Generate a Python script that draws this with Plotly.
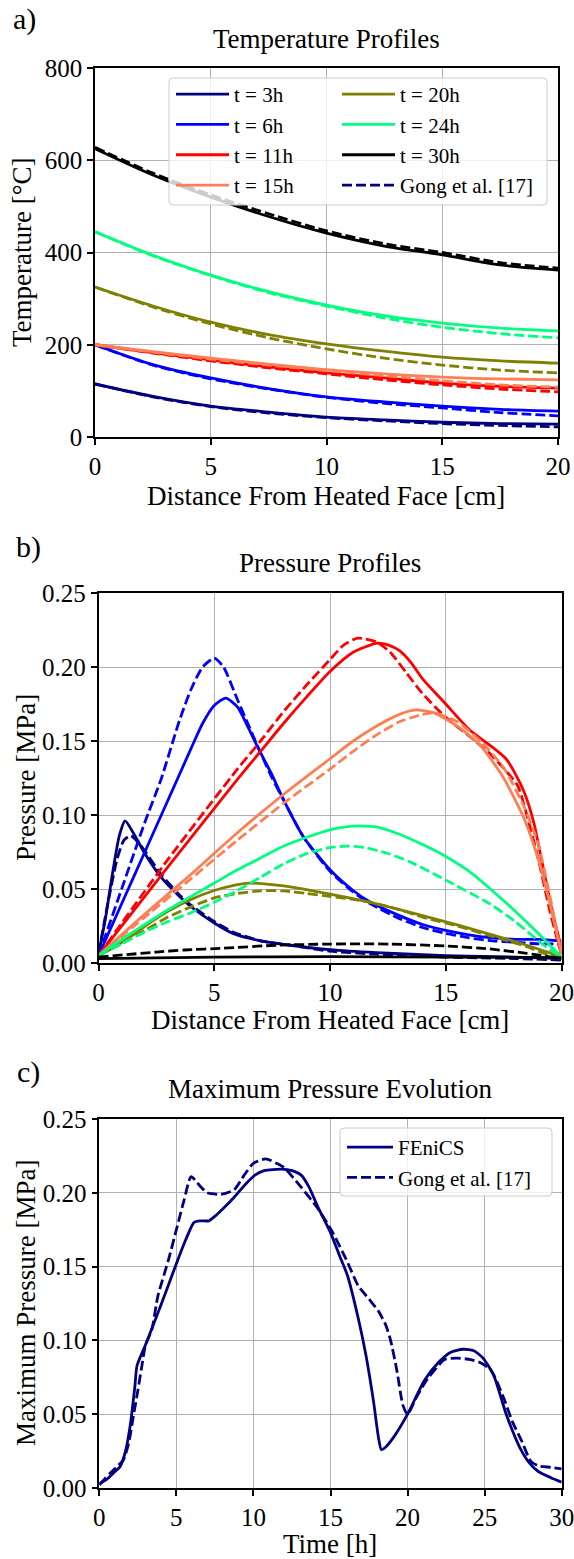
import plotly.graph_objects as go

W, H = 574, 1559

# ---------------- a) temperature profiles ----------------
x_temp = [0, 2.5, 5, 7.5, 10, 12.5, 15, 17.5, 20]
T_3h = [115, 88, 67, 54, 43, 37, 32, 29, 28]
T_3h_gong = [115, 87, 66, 52, 42, 35, 29, 25, 22]
T_6h = [200, 157, 128, 105, 87, 76, 67, 60, 56]
T_6h_gong = [200, 156, 126, 104, 86, 73, 63, 53, 46]
T_11h = [200, 183, 167, 152, 139, 128, 117, 110, 106]
T_11h_gong = [200, 182, 165, 150, 137, 124, 113, 104, 98]
T_15h = [200, 185, 171, 158, 146, 137, 130, 126, 124]
T_15h_gong = [200, 184, 169, 156, 144, 133, 122, 113, 108]
T_20h = [325, 284, 249, 222, 202, 186, 173, 165, 160]
T_20h_gong = [325, 282, 245, 215, 191, 171, 156, 145, 139]
T_24h = [445, 394, 351, 315, 286, 263, 247, 236, 230]
T_24h_gong = [445, 393, 350, 313, 284, 258, 238, 224, 215]
T_30h = [625, 568, 520, 478, 442, 414, 395, 373, 362]
T_30h_gong = [628, 572, 525, 484, 447, 419, 400, 378, 366]

# ---------------- b) pressure profiles ----------------
P_3h_x = [0, 0.3, 0.6, 0.9, 1.15, 1.5, 2.0, 2.7, 3.5, 4.0, 5.0, 5.8, 7.0, 8.3, 10, 12, 15, 18, 20]
P_3h = [0.006, 0.03, 0.06, 0.086, 0.096, 0.088, 0.074, 0.058, 0.045, 0.038, 0.027, 0.020, 0.015, 0.012, 0.009, 0.007, 0.005, 0.004, 0.003]
P_3h_gong_x = [0, 0.4, 0.8, 1.1, 1.4, 1.8, 2.7, 3.5, 4.0, 5.0, 5.8, 7.0, 8.3, 10, 12, 15, 18, 20]
P_3h_gong = [0.006, 0.04, 0.07, 0.083, 0.086, 0.080, 0.060, 0.046, 0.039, 0.028, 0.021, 0.015, 0.012, 0.008, 0.006, 0.004, 0.003, 0.002]

P_6h_x = [0, 1, 2, 3, 3.4, 4, 4.5, 5, 5.5, 6, 6.5, 6.87, 7.5, 8, 8.86, 10, 11, 11.75, 13, 14, 15, 16, 17, 18, 19, 20]
P_6h = [0.005, 0.04, 0.075, 0.11, 0.124, 0.145, 0.162, 0.174, 0.179, 0.173, 0.158, 0.146, 0.127, 0.110, 0.085, 0.063, 0.049, 0.041, 0.032, 0.026, 0.022, 0.019, 0.017, 0.016, 0.016, 0.015]
P_6h_gong_x = [0, 1, 2, 2.7, 3.5, 4, 4.5, 5, 5.4, 6, 6.5, 7, 7.5, 8, 8.86, 10, 11, 11.75, 13, 14, 15, 16, 17, 18, 19, 20]
P_6h_gong = [0.005, 0.05, 0.095, 0.124, 0.164, 0.185, 0.200, 0.206, 0.200, 0.178, 0.160, 0.142, 0.125, 0.110, 0.085, 0.062, 0.048, 0.040, 0.030, 0.024, 0.020, 0.017, 0.015, 0.014, 0.013, 0.013]

P_11h_x = [0, 3, 6, 7, 8, 9, 10, 11, 12, 12.5, 13, 13.5, 14, 15, 16, 17, 17.6, 18, 18.4, 18.8, 19.2, 19.6, 20]
P_11h = [0.005, 0.065, 0.124, 0.143, 0.162, 0.18, 0.197, 0.21, 0.216, 0.215, 0.211, 0.203, 0.192, 0.175, 0.158, 0.146, 0.138, 0.128, 0.115, 0.095, 0.065, 0.035, 0.01]
P_11h_gong_x = [0, 3, 6, 7, 8, 9, 10, 10.6, 11.2, 12, 12.6, 13.3, 14, 15, 16.2, 17, 18.1, 18.5, 19, 19.5, 20]
P_11h_gong = [0.005, 0.07, 0.131, 0.15, 0.17, 0.188, 0.205, 0.215, 0.2195, 0.217, 0.21, 0.196, 0.182, 0.166, 0.151, 0.14, 0.12, 0.1, 0.07, 0.035, 0.005]

P_15h_x = [0, 2, 4, 6, 8, 10, 11, 12, 13, 13.7, 14.5, 15.5, 16.5, 17.5, 18.4, 19, 19.5, 20]
P_15h = [0.005, 0.033, 0.06, 0.088, 0.114, 0.138, 0.15, 0.16, 0.168, 0.171, 0.169, 0.16, 0.147, 0.125, 0.097, 0.07, 0.04, 0.006]
P_15h_gong_x = [0, 2, 4, 6, 8, 10, 11, 12, 13, 14, 14.5, 15.5, 16.5, 17.5, 18.4, 19, 19.5, 20]
P_15h_gong = [0.005, 0.031, 0.057, 0.083, 0.108, 0.131, 0.143, 0.154, 0.163, 0.168, 0.169, 0.163, 0.15, 0.132, 0.105, 0.08, 0.045, 0.006]

P_20h_x = [0, 0.7, 1.4, 2.2, 3, 4, 5, 6, 6.5, 7.5, 8.5, 9.5, 10.5, 11.75, 13, 14, 15.5, 17, 18.5, 19.5, 20]
P_20h = [0.005, 0.011, 0.018, 0.027, 0.035, 0.043, 0.049, 0.053, 0.054, 0.053, 0.051, 0.048, 0.045, 0.041, 0.036, 0.032, 0.0257, 0.019, 0.012, 0.0068, 0.004]
P_20h_gong_x = [0, 1, 2, 3, 4, 5, 6, 7, 8, 9, 10, 11, 11.75, 13, 14, 15.5, 17, 18.5, 19.5, 20]
P_20h_gong = [0.005, 0.013, 0.022, 0.031, 0.038, 0.044, 0.047, 0.0488, 0.0487, 0.047, 0.045, 0.043, 0.041, 0.036, 0.031, 0.025, 0.018, 0.011, 0.005, 0.003]

P_24h_x = [0, 1, 2, 3, 4, 5, 6, 7, 8, 9, 10, 11, 12, 13, 14, 15, 16, 17, 18, 19, 20]
P_24h = [0.005, 0.016, 0.026, 0.036, 0.045, 0.054, 0.063, 0.071, 0.079, 0.085, 0.09, 0.0925, 0.092, 0.087, 0.08, 0.072, 0.062, 0.049, 0.035, 0.02, 0.004]
P_24h_gong_x = [0, 1, 2, 3, 4, 5, 6, 7, 8, 9, 10, 10.75, 11.5, 12.5, 13.5, 15, 16.9, 18, 19, 19.5, 20]
P_24h_gong = [0.005, 0.013, 0.021, 0.028, 0.034, 0.041, 0.049, 0.058, 0.067, 0.074, 0.078, 0.079, 0.078, 0.074, 0.068, 0.056, 0.04, 0.028, 0.015, 0.009, 0.004]

P_30h_x = [0, 5, 10, 15, 20]
P_30h = [0.003, 0.004, 0.0043, 0.004, 0.0036]
P_30h_gong_x = [0, 2.5, 3.7, 5.4, 7.7, 10, 12.6, 15, 16.9, 18.5, 20]
P_30h_gong = [0.004, 0.0074, 0.0088, 0.010, 0.012, 0.0128, 0.0128, 0.0115, 0.0095, 0.0065, 0.003]

# ---------------- c) maximum pressure evolution ----------------
t_fenics = [0, 0.5, 1, 1.34, 1.7, 2.0, 2.3, 2.45, 3, 4, 5, 5.6, 6.15, 6.6, 7.1, 7.6, 8.2, 8.75, 9.5, 10.1,
            10.7, 11.8, 12.5, 13.1, 13.6, 14.2, 15.0, 15.6, 16.1, 16.8, 17.3, 17.8, 18.1, 18.3, 18.6, 19.2,
            20, 21.1, 22, 22.8, 23.6, 24.3, 24.9, 25.6, 26.4, 27.3, 27.9, 28.5, 29.3, 30]
pmax_fenics = [0.003, 0.006, 0.011, 0.0143, 0.025, 0.042, 0.068, 0.083, 0.097, 0.124, 0.152, 0.168, 0.18, 0.181,
               0.181, 0.185, 0.191, 0.197, 0.206, 0.212, 0.215, 0.216, 0.215, 0.212, 0.204, 0.19, 0.173, 0.157,
               0.144, 0.115, 0.09, 0.058, 0.035, 0.026, 0.028, 0.036, 0.05, 0.073, 0.085, 0.092, 0.094, 0.093,
               0.088, 0.076, 0.05, 0.027, 0.017, 0.011, 0.007, 0.004]
t_gong = [0, 0.7, 1.2, 1.56, 1.9, 2.2, 2.5, 2.75, 3.0, 3.4, 3.8, 4.5, 5.0, 5.5, 5.96, 6.5, 7.0, 7.9, 8.75, 9.4,
          10.0, 10.8, 11.5, 12.0, 13.0, 14.2, 15.2, 16.1, 16.8, 17.5, 18.1, 18.6, 18.9, 19.3, 19.7, 20.0, 20.6,
          21.3, 22.4, 23.2, 24.1, 24.7, 25.4, 26.2, 26.8, 27.4, 28.0, 28.5, 29.3, 30]
pmax_gong = [0.002, 0.01, 0.015, 0.019, 0.03, 0.048, 0.066, 0.082, 0.097, 0.107, 0.13, 0.155, 0.175, 0.195, 0.211,
             0.205, 0.2, 0.199, 0.202, 0.212, 0.22, 0.223, 0.22, 0.217, 0.205, 0.189, 0.172, 0.153, 0.137, 0.128,
             0.12, 0.11, 0.1, 0.08, 0.056, 0.05, 0.062, 0.074, 0.087, 0.088, 0.087, 0.085, 0.08, 0.062, 0.045,
             0.032, 0.018, 0.015, 0.014, 0.013]

labels = ["t = 3h", "t = 6h", "t = 11h", "t = 15h", "t = 20h", "t = 24h", "t = 30h"]
colors = ["#000080", "#0000ff", "#ff0000", "#ff7f55", "#808000", "#00ff7f", "#000000"]

FONT = "'Liberation Serif', 'Times New Roman', 'DejaVu Serif', serif"
LW = 2.8
DASH = "10px,4px"


def px_x(p):
    return p / W


def px_y(p):
    return 1 - p / H


fig = go.Figure()

temp_solid = [T_3h, T_6h, T_11h, T_15h, T_20h, T_24h, T_30h]
temp_gong = [T_3h_gong, T_6h_gong, T_11h_gong, T_15h_gong, T_20h_gong, T_24h_gong, T_30h_gong]
for i in range(7):
    fig.add_trace(go.Scatter(x=x_temp, y=temp_solid[i], mode="lines", name=labels[i],
                             line=dict(color=colors[i], width=LW, shape="spline", smoothing=0.8),
                             legend="legend" if i < 4 else "legend2", legendrank=i,
                             xaxis="x", yaxis="y"))
    fig.add_trace(go.Scatter(x=x_temp, y=temp_gong[i], mode="lines", name="Gong et al. [17]",
                             line=dict(color=colors[i], width=LW, dash=DASH, shape="spline", smoothing=0.8),
                             showlegend=(i == 0), legend="legend2", legendrank=10,
                             xaxis="x", yaxis="y"))

pres_solid = [(P_3h_x, P_3h), (P_6h_x, P_6h), (P_11h_x, P_11h), (P_15h_x, P_15h),
              (P_20h_x, P_20h), (P_24h_x, P_24h), (P_30h_x, P_30h)]
pres_gong = [(P_3h_gong_x, P_3h_gong), (P_6h_gong_x, P_6h_gong), (P_11h_gong_x, P_11h_gong),
             (P_15h_gong_x, P_15h_gong), (P_20h_gong_x, P_20h_gong), (P_24h_gong_x, P_24h_gong),
             (P_30h_gong_x, P_30h_gong)]
for i in range(7):
    fig.add_trace(go.Scatter(x=pres_solid[i][0], y=pres_solid[i][1], mode="lines", showlegend=False,
                             line=dict(color=colors[i], width=LW, shape="spline", smoothing=0.6),
                             xaxis="x2", yaxis="y2"))
    fig.add_trace(go.Scatter(x=pres_gong[i][0], y=pres_gong[i][1], mode="lines", showlegend=False,
                             line=dict(color=colors[i], width=LW, dash=DASH, shape="spline", smoothing=0.6),
                             xaxis="x2", yaxis="y2"))

fig.add_trace(go.Scatter(x=t_fenics, y=pmax_fenics, mode="lines", name="FEniCS", legend="legend3",
                         line=dict(color="#000080", width=LW, shape="spline", smoothing=0.6),
                         xaxis="x3", yaxis="y3"))
fig.add_trace(go.Scatter(x=t_gong, y=pmax_gong, mode="lines", name="Gong et al. [17]", legend="legend3",
                         line=dict(color="#000080", width=LW, dash=DASH, shape="spline", smoothing=0.6),
                         xaxis="x3", yaxis="y3"))

axis_style = dict(showline=True, linecolor="black", linewidth=1.5, mirror=True,
                  ticks="outside", ticklen=6, tickwidth=1.5, tickcolor="black",
                  showgrid=True, gridcolor="#b0b0b0", gridwidth=1.3, zeroline=False,
                  ticklabeloverflow="allow",
                  tickfont=dict(family=FONT, size=25, color="black"), automargin=False)

fig.update_layout(
    width=W, height=H, margin=dict(l=0, r=0, t=0, b=0),
    plot_bgcolor="white", paper_bgcolor="white",
    xaxis=dict(axis_style, domain=[px_x(95), px_x(558)], range=[0, 20], dtick=5, anchor="y"),
    yaxis=dict(axis_style, domain=[px_y(437), px_y(68)], range=[0, 800], dtick=200, anchor="x"),
    xaxis2=dict(axis_style, domain=[px_x(98.5), px_x(561.5)], range=[0, 20], dtick=5, anchor="y2"),
    yaxis2=dict(axis_style, domain=[px_y(963), px_y(593)], range=[0, 0.25], dtick=0.05,
                tickformat=".2f", anchor="x2"),
    xaxis3=dict(axis_style, domain=[px_x(99.3), px_x(561.7)], range=[0, 30], dtick=5, anchor="y3"),
    yaxis3=dict(axis_style, domain=[px_y(1488), px_y(1119)], range=[0, 0.25], dtick=0.05,
                tickformat=".2f", anchor="x3"),
    showlegend=True,
)

leg_style = dict(bgcolor="rgba(0,0,0,0)", borderwidth=0, font=dict(family=FONT, size=21, color="black"),
                 xanchor="left", yanchor="top", orientation="v", tracegroupgap=0)
fig.update_layout(
    legend=dict(leg_style, x=px_x(171), y=px_y(74), itemwidth=53),
    legend2=dict(leg_style, x=px_x(337), y=px_y(74), itemwidth=53),
    legend3=dict(leg_style, x=px_x(342), y=px_y(1127), itemwidth=46),
)


def rounded_box(x0, y0, x1, y1, r=4):
    rx, ry = r / W, r / H
    X0, X1 = px_x(x0), px_x(x1)
    Y0, Y1 = px_y(y0), px_y(y1)  # Y0 top, Y1 bottom
    return (f"M {X0 + rx},{Y0} L {X1 - rx},{Y0} Q {X1},{Y0} {X1},{Y0 - ry} "
            f"L {X1},{Y1 + ry} Q {X1},{Y1} {X1 - rx},{Y1} L {X0 + rx},{Y1} "
            f"Q {X0},{Y1} {X0},{Y1 + ry} L {X0},{Y0 - ry} Q {X0},{Y0} {X0 + rx},{Y0} Z")


for box in [(169, 78, 547, 205), (340, 1128, 552, 1196)]:
    fig.add_shape(type="path", path=rounded_box(*box), xref="paper", yref="paper",
                  fillcolor="rgba(255,255,255,0.8)", line=dict(color="#cccccc", width=1), layer="above")

texts = [
    ("a)", 24, 19, 30, 0), ("Temperature Profiles", 326, 39, 27, 0),
    ("Temperature [°C]", 22, 252, 27, -90), ("Distance From Heated Face [cm]", 326, 496, 27, 0),
    ("b)", 28, 547, 30, 0), ("Pressure Profiles", 330, 563, 27, 0),
    ("Pressure [MPa]", 26, 778, 27, -90), ("Distance From Heated Face [cm]", 330, 1020, 27, 0),
    ("c)", 28, 1072, 30, 0), ("Maximum Pressure Evolution", 330, 1089, 27, 0),
    ("Maximum Pressure [MPa]", 26, 1303, 27, -90), ("Time [h]", 330, 1544, 27, 0),
]
for txt, x, y, size, ang in texts:
    fig.add_annotation(text=txt, x=px_x(x), y=px_y(y), xref="paper", yref="paper", showarrow=False,
                       xanchor="center", yanchor="middle", textangle=ang,
                       font=dict(family=FONT, size=size, color="black"))

fig.write_html("out.html", config={"displayModeBar": False},
               post_script="document.body.style.margin='0';")
